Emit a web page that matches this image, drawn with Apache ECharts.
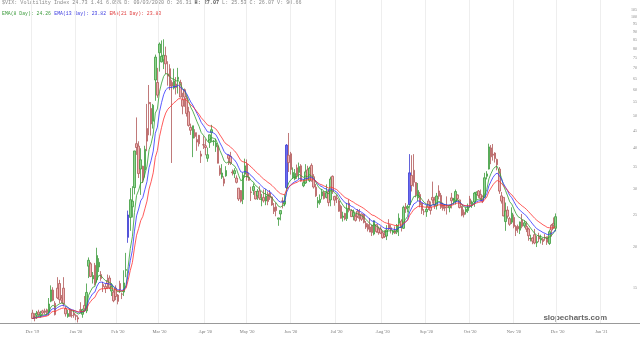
<!DOCTYPE html>
<html><head><meta charset="utf-8">
<script src="https://cdn.jsdelivr.net/npm/echarts@6/dist/echarts.min.js"></script>
<style>html,body{margin:0;padding:0;background:#fff}#c{width:640px;height:338px}</style>
</head><body><div id="c"></div>
<script>
// ---- categories (trading days) ----
const axisStart = '2019-11-22';
const axisEnd = '2021-02-11';
const holidays = ['2019-11-28','2019-12-25','2020-01-01','2020-01-20','2020-02-17','2020-04-10','2020-05-25','2020-07-03','2020-09-07','2020-11-26','2020-12-25','2021-01-01','2021-01-18','2021-02-15'];
const firstDataDay = '2019-12-16';
const labelMonths = ['2019-12','2020-01','2020-02','2020-03','2020-04','2020-05','2020-06','2020-07','2020-08','2020-09','2020-10','2020-11','2020-12','2021-01'];
const monthNames = ['Jan','Feb','Mar','Apr','May','Jun','Jul','Aug','Sep','Oct','Nov','Dec'];
const yTicks = [15,20,25,30,35,40,45,50,55,60,65,70,75,80,85,90,95,100,105];
const blueDays = ['2020-02-24','2020-06-11','2020-09-03'];

// ---- OHLC values, one per trading day from firstDataDay ----
const opens = [
12.6,12.3,12.4,12.7,12.4,12.8,12.8,12.9,12.7,13.7,14.8,
13.5,15.0,15.5,14.0,15.0,13.0,12.3,12.9,12.4,12.6,12.4,12.2,12.9,12.5,13.3,12.8,17.5,17.8,16.0,17.6,15.9,
17.4,16.5,15.4,15.2,15.8,16.1,14.7,14.6,15.0,14.3,15.5,14.4,14.6,17.0,21.4,24.6,26.5,30.3,41.2,
40.5,34.5,35.2,34.3,45.8,55.0,52.7,48.2,64.3,63.2,77.8,73.0,74.0,76.2,67.1,69.6,63.2,60.8,62.5,64.6,63.2,56.0,
60.1,56.6,51.5,46.2,42.8,44.5,42.4,43.7,38.3,40.9,40.6,37.2,41.5,44.5,41.8,40.3,40.5,34.7,32.6,32.2,32.9,
38.0,37.7,33.8,33.4,32.4,30.2,29.7,27.9,33.3,35.7,32.6,29.4,29.7,29.5,28.6,29.6,27.9,28.3,27.6,29.0,
29.2,28.4,26.4,26.5,24.3,25.2,27.6,27.0,30.3,38.0,38.4,32.5,32.2,34.8,33.7,35.3,30.7,31.3,34.3,31.8,35.4,32.7,
30.4,27.2,27.3,28.6,29.3,28.3,29.5,27.8,32.8,28.5,28.2,27.6,26.6,24.6,25.3,24.4,27.2,25.8,24.8,24.8,25.7,24.6,
25.2,25.1,23.6,23.4,23.0,23.3,21.9,23.4,22.7,22.7,22.1,21.8,21.6,23.4,22.9,22.1,22.4,22.2,23.6,24.0,22.8,
26.4,26.3,26.9,33.0,34.2,31.4,28.2,28.9,27.2,25.6,25.6,27.6,26.5,28.3,27.8,26.7,29.6,28.7,26.9,26.5,26.5,
26.3,28.2,27.9,27.5,28.8,27.8,26.6,25.5,25.6,25.8,28.0,26.9,27.4,28.9,29.6,28.9,28.5,28.3,32.8,34.5,40.0,38.3,
38.6,36.9,34.5,28.6,28.3,23.9,25.9,24.4,23.8,24.6,23.1,23.1,22.5,24.2,23.2,23.1,22.7,21.2,21.3,21.8,
20.6,21.6,21.0,21.1,21.4,21.5,20.5,23.3,23.6,22.8
];
const highs = [
12.9,12.6,12.8,12.9,12.8,12.9,13.0,13.0,14.0,15.3,15.1,
13.7,16.2,15.9,14.3,16.2,13.2,12.9,13.0,12.9,12.9,12.5,12.4,13.6,13.0,14.2,15.5,18.6,18.0,16.8,17.9,19.9,
18.5,16.9,15.7,15.5,16.5,16.4,15.5,14.8,15.3,14.4,15.8,14.5,17.0,19.2,25.8,30.2,30.6,39.2,49.5,
41.9,39.9,35.3,40.6,54.4,62.1,55.1,54.4,76.8,70.0,83.6,84.8,85.5,81.2,73.3,71.8,64.2,69.6,65.6,70.0,64.4,58.8,
60.6,57.7,53.3,47.4,46.7,45.6,44.6,43.8,39.2,43.4,42.5,40.1,43.9,47.0,42.3,42.7,41.0,35.4,35.7,32.8,35.2,
38.2,38.9,34.4,34.7,33.0,30.2,29.8,33.7,37.1,36.9,33.6,30.5,31.2,29.5,30.0,30.6,29.0,29.9,30.0,29.5,
29.8,28.5,27.2,27.3,24.5,25.8,28.3,28.9,41.1,44.4,38.9,34.9,34.5,35.6,36.1,35.7,32.1,35.7,35.3,35.1,35.9,33.3,
31.1,28.4,28.9,30.0,29.6,31.0,30.0,32.7,33.0,28.6,28.9,27.9,26.9,25.6,25.4,27.2,27.9,26.1,26.0,25.3,26.1,26.1,
25.3,25.2,24.0,23.6,24.5,23.4,24.1,23.4,23.1,23.1,22.4,22.5,23.3,24.3,23.4,22.5,23.1,23.5,25.3,24.3,26.7,
27.2,26.9,38.3,38.0,38.3,31.5,31.3,29.4,27.3,26.1,26.8,28.0,27.5,31.6,28.4,29.2,30.8,29.2,27.3,27.0,28.5,
26.9,29.2,28.2,29.9,28.9,27.8,26.7,26.0,26.4,27.1,28.6,27.7,29.4,29.5,29.8,29.9,28.7,33.6,34.0,41.2,40.8,41.1,
38.8,37.1,35.0,29.4,28.3,27.3,26.6,24.7,26.4,25.1,23.3,23.4,23.9,25.2,24.1,23.9,22.9,21.8,21.4,22.7,
21.6,22.1,21.8,21.3,21.9,21.5,22.6,23.5,24.6,25.3
];
const lows = [
12.1,11.9,12.1,12.3,12.2,12.4,12.5,12.4,12.4,13.6,13.7,
12.4,13.9,13.5,13.5,13.2,12.3,12.2,12.3,12.2,12.2,12.0,11.8,12.6,12.2,12.8,12.6,16.1,16.2,15.5,15.3,15.6,
16.8,15.8,14.6,14.5,14.9,14.9,14.2,13.6,13.8,13.4,14.5,13.9,14.2,16.2,20.6,22.4,24.6,28.9,38.1,
32.4,28.8,31.3,32.5,39.1,43.7,43.6,45.8,55.6,56.8,68.2,72.7,69.4,67.0,61.8,59.9,36.0,60.2,58.1,58.5,56.9,50.6,
53.3,49.8,46.4,43.8,37.5,42.8,39.2,40.4,36.0,39.7,38.0,36.3,40.0,41.6,40.6,38.9,35.9,32.9,32.2,30.6,32.7,
35.5,35.5,33.0,32.4,31.2,27.6,27.3,27.0,32.6,31.8,31.8,27.6,28.8,27.9,27.8,27.8,26.6,27.3,26.8,26.8,
27.8,26.7,25.2,24.8,23.2,24.1,26.2,26.6,30.0,33.8,33.2,32.2,31.9,32.2,32.1,31.6,30.4,31.1,32.1,31.5,31.6,30.1,
28.4,26.3,26.9,27.9,27.9,28.1,26.6,26.6,29.0,26.7,27.2,25.6,24.4,23.9,24.1,24.0,25.5,24.7,24.1,23.9,24.5,23.9,
24.0,23.6,22.7,22.3,22.2,21.6,21.7,22.1,21.8,21.9,21.2,21.3,21.0,22.5,22.0,21.8,21.9,21.9,21.6,22.3,22.7,
25.4,25.5,26.8,29.5,30.5,28.3,27.6,26.4,25.2,25.0,24.7,25.9,25.1,27.1,26.1,26.0,27.9,26.1,25.8,25.7,25.1,
25.5,26.2,26.9,26.9,27.7,26.2,24.8,24.6,25.1,25.4,26.3,26.3,26.5,27.8,28.2,27.5,27.2,28.2,32.1,34.4,35.7,36.6,
36.1,34.2,29.0,27.1,24.8,22.4,24.4,23.2,23.5,22.8,21.6,22.1,21.9,22.8,22.9,22.2,20.9,20.8,20.4,20.4,
20.0,20.7,20.5,20.3,20.9,20.3,20.3,21.5,22.7,22.3
];
const closes = [
12.14,12.29,12.58,12.50,12.51,12.61,12.67,12.65,13.43,14.82,13.78,
12.47,14.02,13.85,13.79,13.45,12.54,12.56,12.32,12.39,12.42,12.32,12.10,12.85,12.91,12.98,14.56,18.23,16.28,16.39,15.49,18.84,
17.97,16.05,15.15,14.96,15.47,15.04,15.18,13.74,14.15,13.68,14.83,14.38,15.56,17.08,25.03,27.85,27.56,39.16,40.11,
33.42,36.82,31.99,39.62,41.94,54.46,47.30,53.90,75.47,57.83,82.69,75.91,76.45,72.00,66.04,61.59,61.67,63.95,61.00,65.54,57.08,53.54,
57.06,50.91,46.80,45.24,46.70,43.35,41.67,41.17,37.76,40.84,40.11,38.15,43.83,45.41,41.98,41.38,35.93,33.29,33.57,31.23,34.15,
37.19,35.97,33.61,34.12,31.44,27.98,27.57,33.04,35.28,32.61,31.89,29.30,30.53,27.99,29.53,28.16,28.01,27.62,28.59,27.51,
28.23,26.84,25.66,25.81,24.52,25.81,27.57,27.57,40.79,36.09,34.40,33.67,33.47,32.94,35.12,31.77,31.37,33.84,32.22,34.73,31.78,30.43,
28.62,27.68,27.94,29.43,28.08,29.26,27.29,32.19,29.52,27.76,28.00,25.68,24.46,24.84,24.32,26.08,25.84,24.74,25.44,24.10,24.76,24.46,
24.28,23.76,22.99,22.65,22.21,22.13,24.03,22.28,22.13,22.05,21.35,21.51,22.54,22.72,22.54,22.37,22.03,23.27,24.47,22.96,26.41,
26.12,26.57,33.60,30.75,31.46,28.81,29.71,26.87,25.85,25.59,26.04,26.46,25.83,27.78,26.86,28.58,28.51,26.38,26.19,26.27,26.37,
26.70,27.63,27.96,29.48,28.06,26.36,25.00,25.07,26.07,26.40,26.97,27.41,29.18,29.35,28.65,28.11,27.55,32.46,33.35,40.28,37.59,38.02,
37.13,35.55,29.57,27.58,24.86,25.75,24.80,23.45,25.35,23.10,22.45,22.71,23.84,23.11,23.70,22.66,21.64,21.25,20.84,20.57,
20.77,21.17,21.28,20.79,21.30,20.68,22.27,22.52,23.32,24.73
];

// ---- build categories ----
function fmt(d){return d.toISOString().slice(0,10);}
const cats = [];
for (let d = new Date(axisStart+'T00:00:00Z'); fmt(d) <= axisEnd; d.setUTCDate(d.getUTCDate()+1)) {
  const wd = d.getUTCDay(), s = fmt(d);
  if (wd === 0 || wd === 6 || holidays.includes(s)) continue;
  cats.push(s);
}
const byMonth = {};
cats.forEach((s,i)=>{const m=s.slice(0,7);(byMonth[m]=byMonth[m]||[]).push(i);});
const labelAt = {};
labelMonths.forEach(m=>{const a=byMonth[m]; if(!a) return; const idx=a[Math.floor((a.length-1)/2)];
  labelAt[idx]=monthNames[+m.slice(5,7)-1]+" '"+m.slice(2,4);});

const off = cats.indexOf(firstDataDay);
const lg = v => Math.log10(v);
const candles = closes.map((c,i)=>{
  const idx = off+i;
  const item = {value:[idx, lg(opens[i]), lg(c), lg(lows[i]), lg(highs[i])]};
  if (blueDays.includes(cats[idx])) item.itemStyle = {color:'#6a6af0', borderColor:'#3b3bd0', color0:'#6a6af0', borderColor0:'#3b3bd0'};
  return item;
});
function ema(n){const k=2/(n+1);let e=closes[0];return closes.map((c,i)=>{e=i===0?c:c*k+e*(1-k);return [off+i, lg(e)];});}

const mono = 'Liberation Mono';
const chart = echarts.init(document.getElementById('c'), null, {renderer:'canvas'});
chart.setOption({
  animation:false,
  backgroundColor:'#fff',
  grid:{left:0,right:0,top:0,bottom:15},
  graphic:[
    {type:'text',left:2,top:0.5,style:{
      text:'{a|$VIX: Volatility Index 24.73 1.41 6.05% D: 09/03/2020 O: 26.31 }{b|H: 27.07}{a| L: 25.53 C: 26.07 V: 90.66}',
      rich:{a:{fontFamily:mono,fontSize:5.1,fill:'#888'},b:{fontFamily:mono,fontSize:5.1,fill:'#555',fontWeight:'bold'}}}},
    {type:'text',left:2,top:7.5,style:{
      text:'{g|EMA(8 Day): 24.26} {bl|EMA(13 Day): 23.82} {r|EMA(21 Day): 23.83}',
      rich:{g:{fontFamily:mono,fontSize:4.8,fill:'#3a9a3a'},bl:{fontFamily:mono,fontSize:4.8,fill:'#3a3ae0'},r:{fontFamily:mono,fontSize:4.8,fill:'#e04040'}}}},
    {type:'text',right:33,top:314,style:{text:'slopecharts.com',fontFamily:'Liberation Sans',fontSize:8,fontWeight:'bold',fill:'#666'}}
  ],
  xAxis:{type:'category',data:cats,boundaryGap:true,
    axisLine:{lineStyle:{color:'#999',width:1}},axisTick:{show:false},
    axisLabel:{interval:(i)=>labelAt[i]!==undefined,formatter:(v,i)=>labelAt[i]||'',fontSize:4.5,color:'#777',margin:6,fontFamily:'Liberation Serif'},
    splitLine:{show:true,interval:(i)=>labelAt[i]!==undefined,lineStyle:{color:'#eee',width:1}}},
  yAxis:{type:'value',position:'right',min:lg(11.76),max:lg(112.5),
    axisLine:{show:false},axisTick:{show:false},splitLine:{show:false},
    axisLabel:{inside:true,margin:3,customValues:yTicks.map(lg),formatter:v=>String(Math.round(Math.pow(10,v))),fontSize:4,color:'#888',fontFamily:'Liberation Serif'}},
  series:[
    {type:'candlestick',data:candles,encode:{x:0,y:[1,2,3,4]},barWidth:2,
     itemStyle:{color:'#8fd48f',color0:'#f0b4b4',borderColor:'#3c9a3c',borderColor0:'#b05858',borderWidth:0.8}},
    {type:'line',data:ema(8),showSymbol:false,lineStyle:{color:'#2ea02e',width:0.8},z:3},
    {type:'line',data:ema(13),showSymbol:false,lineStyle:{color:'#3030ff',width:0.8},z:3},
    {type:'line',data:ema(21),showSymbol:false,lineStyle:{color:'#ff3030',width:0.8},z:3}
  ]
});
</script></body></html>
